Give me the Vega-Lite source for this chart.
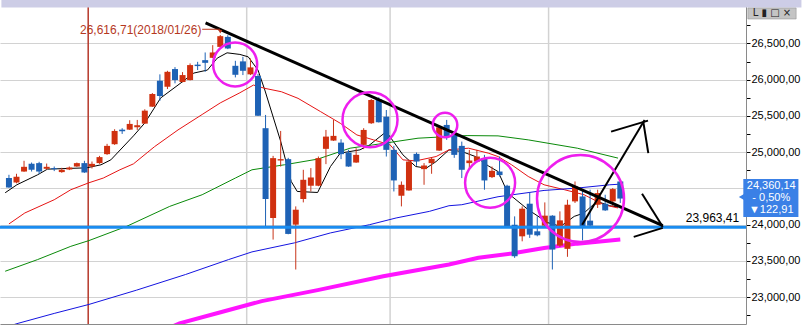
{
  "$schema": "https://vega.github.io/schema/vega-lite/v6.json",
  "autosize": "none",
  "padding": {"top": 0, "left": 0, "right": 58, "bottom": 1},
  "width": 746,
  "height": 324,
  "background": "#ffffff",
  "config": {
    "view": {"stroke": null},
    "font": "Liberation Sans",
    "axis": {"labelFont": "Liberation Sans", "labelFontSize": 11, "labelColor": "#000000", "tickColor": "#000000", "domainColor": "#8a8a8a", "gridColor": "#d2d2d2"}
  },
  "datasets": {
    "candles": [
      {"i":0,"date":"2017-12-14","open":24643,"high":24688,"low":24509,"close":24513},
      {"i":1,"date":"2017-12-15","open":24582,"high":24702,"low":24571,"close":24660},
      {"i":2,"date":"2017-12-18","open":24733,"high":24881,"low":24729,"close":24798},
      {"i":3,"date":"2017-12-19","open":24839,"high":24857,"low":24733,"close":24757},
      {"i":4,"date":"2017-12-20","open":24849,"high":24867,"low":24698,"close":24733},
      {"i":5,"date":"2017-12-21","open":24771,"high":24843,"low":24757,"close":24798},
      {"i":6,"date":"2017-12-22","open":24780,"high":24802,"low":24739,"close":24766},
      {"i":7,"date":"2017-12-26","open":24725,"high":24784,"low":24716,"close":24757},
      {"i":8,"date":"2017-12-27","open":24761,"high":24802,"low":24753,"close":24788},
      {"i":9,"date":"2017-12-28","open":24802,"high":24857,"low":24798,"close":24849},
      {"i":10,"date":"2017-12-29","open":24849,"high":24881,"low":24715,"close":24720},
      {"i":11,"date":"2018-01-02","open":24802,"high":24871,"low":24775,"close":24839},
      {"i":12,"date":"2018-01-03","open":24849,"high":24949,"low":24839,"close":24932},
      {"i":13,"date":"2018-01-04","open":24973,"high":25115,"low":24963,"close":25087},
      {"i":14,"date":"2018-01-05","open":25110,"high":25317,"low":25101,"close":25293},
      {"i":15,"date":"2018-01-08","open":25311,"high":25331,"low":25252,"close":25289},
      {"i":16,"date":"2018-01-09","open":25311,"high":25441,"low":25307,"close":25390},
      {"i":17,"date":"2018-01-10","open":25344,"high":25445,"low":25307,"close":25372},
      {"i":18,"date":"2018-01-11","open":25394,"high":25592,"low":25390,"close":25573},
      {"i":19,"date":"2018-01-12","open":25628,"high":25816,"low":25624,"close":25803},
      {"i":20,"date":"2018-01-16","open":25986,"high":26074,"low":25710,"close":25775},
      {"i":21,"date":"2018-01-17","open":25903,"high":26123,"low":25871,"close":26109},
      {"i":22,"date":"2018-01-18","open":26147,"high":26174,"low":25950,"close":25995},
      {"i":23,"date":"2018-01-19","open":25968,"high":26105,"low":25964,"close":26064},
      {"i":24,"date":"2018-01-22","open":25995,"high":26225,"low":25990,"close":26202},
      {"i":25,"date":"2018-01-23","open":26208,"high":26247,"low":26133,"close":26188},
      {"i":26,"date":"2018-01-24","open":26270,"high":26376,"low":26109,"close":26233},
      {"i":27,"date":"2018-01-25","open":26302,"high":26477,"low":26298,"close":26376},
      {"i":28,"date":"2018-01-26","open":26453,"high":26616.71,"low":26449,"close":26601},
      {"i":29,"date":"2018-01-29","open":26591,"high":26614,"low":26422,"close":26431},
      {"i":30,"date":"2018-01-30","open":26192,"high":26261,"low":26032,"close":26068},
      {"i":31,"date":"2018-01-31","open":26253,"high":26316,"low":26064,"close":26123},
      {"i":32,"date":"2018-02-01","open":26074,"high":26294,"low":26064,"close":26170},
      {"i":33,"date":"2018-02-02","open":26050,"high":26078,"low":25500,"close":25504},
      {"i":34,"date":"2018-02-05","open":25331,"high":25514,"low":23955,"close":24354},
      {"i":35,"date":"2018-02-06","open":24092,"high":24949,"low":23794,"close":24918},
      {"i":36,"date":"2018-02-07","open":24885,"high":25293,"low":24802,"close":24904},
      {"i":37,"date":"2018-02-08","open":24904,"high":24922,"low":23867,"close":23872},
      {"i":38,"date":"2018-02-09","open":24000,"high":24252,"low":23381,"close":24206},
      {"i":39,"date":"2018-02-12","open":24354,"high":24757,"low":24307,"close":24619},
      {"i":40,"date":"2018-02-13","open":24537,"high":24780,"low":24458,"close":24651},
      {"i":41,"date":"2018-02-14","open":24537,"high":24940,"low":24530,"close":24918},
      {"i":42,"date":"2018-02-15","open":25046,"high":25307,"low":24835,"close":25215},
      {"i":43,"date":"2018-02-16","open":25160,"high":25445,"low":25156,"close":25225},
      {"i":44,"date":"2018-02-20","open":25132,"high":25179,"low":24904,"close":24973},
      {"i":45,"date":"2018-02-21","open":24995,"high":25032,"low":24798,"close":24802},
      {"i":46,"date":"2018-02-22","open":24857,"high":25055,"low":24853,"close":24963},
      {"i":47,"date":"2018-02-23","open":25101,"high":25331,"low":25042,"close":25307},
      {"i":48,"date":"2018-02-26","open":25399,"high":25734,"low":25390,"close":25720},
      {"i":49,"date":"2018-02-27","open":25730,"high":25757,"low":25410,"close":25413},
      {"i":50,"date":"2018-02-28","open":25490,"high":25582,"low":24940,"close":25032},
      {"i":51,"date":"2018-03-01","open":25032,"high":25087,"low":24458,"close":24610},
      {"i":52,"date":"2018-03-02","open":24399,"high":24596,"low":24252,"close":24550},
      {"i":53,"date":"2018-03-05","open":24472,"high":24894,"low":24468,"close":24871},
      {"i":54,"date":"2018-03-06","open":24977,"high":24995,"low":24812,"close":24871},
      {"i":55,"date":"2018-03-07","open":24766,"high":24849,"low":24550,"close":24816},
      {"i":56,"date":"2018-03-08","open":24849,"high":24932,"low":24702,"close":24908},
      {"i":57,"date":"2018-03-09","open":25022,"high":25362,"low":25018,"close":25344},
      {"i":58,"date":"2018-03-12","open":25376,"high":25445,"low":25170,"close":25215},
      {"i":59,"date":"2018-03-13","open":25238,"high":25266,"low":24922,"close":24963},
      {"i":60,"date":"2018-03-14","open":25087,"high":25146,"low":24643,"close":24757},
      {"i":61,"date":"2018-03-15","open":24849,"high":25032,"low":24780,"close":24885},
      {"i":62,"date":"2018-03-16","open":24871,"high":25032,"low":24867,"close":24940},
      {"i":63,"date":"2018-03-19","open":24918,"high":24963,"low":24482,"close":24610},
      {"i":64,"date":"2018-03-20","open":24656,"high":24802,"low":24643,"close":24743},
      {"i":65,"date":"2018-03-21","open":24733,"high":24940,"low":24665,"close":24684},
      {"i":66,"date":"2018-03-22","open":24537,"high":24550,"low":23970,"close":23979},
      {"i":67,"date":"2018-03-23","open":24000,"high":24114,"low":23542,"close":23564},
      {"i":68,"date":"2018-03-26","open":23839,"high":24252,"low":23770,"close":24220},
      {"i":69,"date":"2018-03-27","open":24289,"high":24444,"low":23817,"close":23862},
      {"i":70,"date":"2018-03-28","open":23908,"high":24114,"low":23839,"close":23853},
      {"i":71,"date":"2018-03-29","open":23986,"high":24307,"low":23977,"close":24124},
      {"i":72,"date":"2018-04-02","open":24124,"high":24130,"low":23381,"close":23656},
      {"i":73,"date":"2018-04-03","open":23711,"high":24183,"low":23693,"close":24059},
      {"i":74,"date":"2018-04-04","open":23666,"high":24344,"low":23556,"close":24275},
      {"i":75,"date":"2018-04-05","open":24321,"high":24596,"low":24299,"close":24527},
      {"i":76,"date":"2018-04-06","open":24389,"high":24482,"low":23784,"close":23955},
      {"i":77,"date":"2018-04-09","open":24055,"high":24482,"low":23980,"close":23986},
      {"i":78,"date":"2018-04-10","open":24275,"high":24482,"low":24230,"close":24436},
      {"i":79,"date":"2018-04-11","open":24289,"high":24413,"low":24190,"close":24197},
      {"i":80,"date":"2018-04-12","open":24321,"high":24505,"low":24252,"close":24491},
      {"i":81,"date":"2018-04-13","open":24596,"high":24600,"low":24299,"close":24360.14}
    ],
    "ma": [
      {"line":"MA5","i":-0.5,"value":24440},{"line":"MA5","i":1.05,"value":24550},{"line":"MA5","i":3.8,"value":24688},{"line":"MA5","i":5.1,"value":24766},{"line":"MA5","i":10.3,"value":24784},{"line":"MA5","i":12.2,"value":24826},{"line":"MA5","i":13.5,"value":24894},{"line":"MA5","i":16.5,"value":25225},{"line":"MA5","i":18.0,"value":25403},{"line":"MA5","i":20.1,"value":25748},{"line":"MA5","i":22.4,"value":25926},{"line":"MA5","i":24.5,"value":26092},{"line":"MA5","i":26.3,"value":26133},{"line":"MA5","i":27.6,"value":26298},{"line":"MA5","i":28.9,"value":26371},{"line":"MA5","i":30.6,"value":26349},{"line":"MA5","i":31.7,"value":26316},{"line":"MA5","i":33.0,"value":26133},{"line":"MA5","i":33.9,"value":25858},{"line":"MA5","i":36.0,"value":25150},{"line":"MA5","i":37.4,"value":24596},{"line":"MA5","i":38.2,"value":24458},{"line":"MA5","i":40.9,"value":24444},{"line":"MA5","i":42.6,"value":24802},{"line":"MA5","i":43.9,"value":24987},{"line":"MA5","i":46.5,"value":25032},{"line":"MA5","i":47.8,"value":25101},{"line":"MA5","i":50.0,"value":25284},{"line":"MA5","i":52.2,"value":24963},{"line":"MA5","i":53.9,"value":24802},{"line":"MA5","i":55.3,"value":24780},{"line":"MA5","i":56.6,"value":24871},{"line":"MA5","i":58.3,"value":25032},{"line":"MA5","i":60.0,"value":25009},{"line":"MA5","i":61.8,"value":24940},{"line":"MA5","i":63.5,"value":24812},{"line":"MA5","i":64.8,"value":24733},{"line":"MA5","i":66.1,"value":24436},{"line":"MA5","i":68.8,"value":24206},{"line":"MA5","i":71.4,"value":24027},{"line":"MA5","i":73.1,"value":23977},{"line":"MA5","i":74.9,"value":24114},{"line":"MA5","i":76.2,"value":24161},{"line":"MA5","i":77.9,"value":24321},{"line":"MA5","i":79.6,"value":24261},{"line":"MA5","i":80.7,"value":24243},
      {"line":"MA20","i":0,"value":24010},{"line":"MA20","i":2.1,"value":24161},{"line":"MA20","i":6.0,"value":24344},{"line":"MA20","i":8.2,"value":24482},{"line":"MA20","i":10.6,"value":24578},{"line":"MA20","i":12.5,"value":24643},{"line":"MA20","i":14.7,"value":24757},{"line":"MA20","i":16.5,"value":24839},{"line":"MA20","i":19.3,"value":25077},{"line":"MA20","i":22.4,"value":25307},{"line":"MA20","i":25.6,"value":25520},{"line":"MA20","i":28.0,"value":25680},{"line":"MA20","i":30.6,"value":25820},{"line":"MA20","i":32.4,"value":25926},{"line":"MA20","i":33.9,"value":25881},{"line":"MA20","i":36.1,"value":25834},{"line":"MA20","i":38.3,"value":25743},{"line":"MA20","i":41.3,"value":25559},{"line":"MA20","i":43.9,"value":25399},{"line":"MA20","i":46.1,"value":25238},{"line":"MA20","i":48.3,"value":25170},{"line":"MA20","i":50.5,"value":25101},{"line":"MA20","i":52.2,"value":24894},{"line":"MA20","i":53.9,"value":24880},{"line":"MA20","i":56.6,"value":24940},{"line":"MA20","i":58.3,"value":25032},{"line":"MA20","i":60.9,"value":25055},{"line":"MA20","i":63.5,"value":24987},{"line":"MA20","i":64.8,"value":24940},{"line":"MA20","i":66.6,"value":24826},{"line":"MA20","i":68.8,"value":24665},{"line":"MA20","i":70.9,"value":24550},{"line":"MA20","i":73.6,"value":24482},{"line":"MA20","i":76.2,"value":24413},{"line":"MA20","i":78.8,"value":24275},{"line":"MA20","i":80.7,"value":24230},
      {"line":"MA60","i":-0.5,"value":23357},{"line":"MA60","i":3.8,"value":23518},{"line":"MA60","i":8.2,"value":23701},{"line":"MA60","i":10.6,"value":23780},{"line":"MA60","i":15.6,"value":23977},{"line":"MA60","i":21.3,"value":24252},{"line":"MA60","i":25.6,"value":24413},{"line":"MA60","i":30.0,"value":24643},{"line":"MA60","i":32.2,"value":24757},{"line":"MA60","i":36.5,"value":24826},{"line":"MA60","i":40.9,"value":24904},{"line":"MA60","i":45.2,"value":25055},{"line":"MA60","i":49.8,"value":25124},{"line":"MA60","i":54.2,"value":25193},{"line":"MA60","i":60.7,"value":25229},{"line":"MA60","i":64.8,"value":25225},{"line":"MA60","i":68.8,"value":25170},{"line":"MA60","i":75.3,"value":25055},{"line":"MA60","i":80.7,"value":24918},
      {"line":"MA120","i":0,"value":22600},{"line":"MA120","i":1.2,"value":22638},{"line":"MA120","i":6.0,"value":22775},{"line":"MA120","i":10.6,"value":22899},{"line":"MA120","i":16.9,"value":23096},{"line":"MA120","i":23.4,"value":23312},{"line":"MA120","i":29.1,"value":23518},{"line":"MA120","i":32.2,"value":23624},{"line":"MA120","i":37.8,"value":23748},{"line":"MA120","i":42.6,"value":23886},{"line":"MA120","i":47.8,"value":24000},{"line":"MA120","i":51.3,"value":24092},{"line":"MA120","i":55.7,"value":24183},{"line":"MA120","i":58.3,"value":24261},{"line":"MA120","i":60.0,"value":24275},{"line":"MA120","i":64.8,"value":24385},{"line":"MA120","i":70.9,"value":24472},{"line":"MA120","i":75.3,"value":24505},{"line":"MA120","i":79.6,"value":24550},{"line":"MA120","i":80.7,"value":24557},
      {"line":"MA240","i":21.7,"value":22596},{"line":"MA240","i":22.6,"value":22638},{"line":"MA240","i":27.8,"value":22785},{"line":"MA240","i":33.5,"value":22945},{"line":"MA240","i":40.9,"value":23096},{"line":"MA240","i":49.6,"value":23289},{"line":"MA240","i":58.3,"value":23450},{"line":"MA240","i":62.2,"value":23542},{"line":"MA240","i":66.6,"value":23601},{"line":"MA240","i":70.9,"value":23679},{"line":"MA240","i":75.3,"value":23738},{"line":"MA240","i":81.0,"value":23794}
    ],
    "months": [
      {"i":10.5,"boundary":"2018-01","kind":"year"},
      {"i":31.5,"boundary":"2018-02","kind":"month"},
      {"i":50.5,"boundary":"2018-03","kind":"month"},
      {"i":71.5,"boundary":"2018-04","kind":"month"}
    ],
    "levels": [{"label":"23,963,41","value":23963.41}],
    "drawings": [
      {"seg":"trend","i":26.05,"value":26784},{"seg":"trend","i":86.63,"value":23986},
      {"seg":"up","i":75.95,"value":24000},{"seg":"up","i":84.22,"value":25445},
      {"seg":"upbarb1","i":79.78,"value":25284},{"seg":"upbarb1","i":84.67,"value":25435},
      {"seg":"upbarb2","i":84.71,"value":24987},{"seg":"upbarb2","i":84.05,"value":25417},
      {"seg":"wedge1","i":83.88,"value":24427},{"seg":"wedge1","i":86.63,"value":23972},
      {"seg":"wedge2","i":82.78,"value":23831},{"seg":"wedge2","i":86.63,"value":23955}
    ],
    "circles": [
      {"ring":"c1","i":29.97,"value":26211},
      {"ring":"c2","i":47.84,"value":25448},
      {"ring":"c3","i":57.78,"value":25376},
      {"ring":"c4","i":63.75,"value":24578},
      {"ring":"c5","i":75.73,"value":24361}
    ],
    "one": [{"note":"annotation"}]
  },
  "layer": [
    {
      "encoding": {
        "x": {"field": "i", "type": "quantitative", "scale": {"domain": [-0.523, 96.993], "nice": false, "zero": false},
              "axis": {"orient": "bottom", "labels": false, "ticks": false, "grid": false, "title": null}},
        "y": {"field": "value", "type": "quantitative", "scale": {"domain": [22629, 27100], "nice": false, "zero": false},
              "axis": {"orient": "right", "title": null, "values": [22750,23000,23250,23500,23750,24000,24250,24500,24750,25000,25250,25500,25750,26000,26250,26500,26750], "labelExpr": "datum.value % 500 === 0 && datum.value !== 24500 ? replace(format(datum.value, ',.2f'), '.', ',') : ''", "labelPadding": 1, "labelOverlap": false, "labelFlush": false, "tickSize": 4, "grid": true, "gridOpacity": {"condition": {"test": "datum.value % 500 === 0", "value": 1}, "value": 0}}}
      },
      "layer": [
        {
          "data": {"name": "months"},
          "mark": {"type": "rule", "strokeWidth": 1.5},
          "encoding": {
            "y": null,
            "color": {"condition": {"test": "datum.kind === 'year'", "value": "#b5382a"}, "value": "#d2d2d2"}
          }
        },
        {
          "data": {"name": "ma"},
          "transform": [{"filter": "datum.line !== 'MA240'"}],
          "mark": {"type": "line", "strokeWidth": 1, "clip": true},
          "encoding": {
            "detail": {"field": "line"},
            "color": {"field": "line", "type": "nominal", "legend": null,
                      "scale": {"domain": ["MA5","MA20","MA60","MA120"], "range": ["#000000","#e61414","#0a8a0a","#1414e0"]}}
          }
        },
        {
          "data": {"name": "ma"},
          "transform": [{"filter": "datum.line === 'MA240'"}],
          "mark": {"type": "line", "strokeWidth": 4, "color": "#ff14ff", "clip": true},
          "encoding": {}
        },
        {
          "data": {"name": "candles"},
          "mark": {"type": "rule", "strokeWidth": 1},
          "encoding": {
            "y": {"field": "low", "type": "quantitative"},
            "y2": {"field": "high"},
            "color": {"condition": {"test": "datum.open < datum.close", "value": "#c8341a"}, "value": "#1e62b5"}
          }
        },
        {
          "data": {"name": "candles"},
          "mark": {"type": "bar", "width": 6},
          "encoding": {
            "y": {"field": "open", "type": "quantitative"},
            "y2": {"field": "close"},
            "color": {"condition": {"test": "datum.open < datum.close", "value": "#d0300f"}, "value": "#1e62b5"}
          }
        },
        {
          "data": {"name": "levels"},
          "mark": {"type": "rule", "strokeWidth": 3, "color": "#1a8cf0"},
          "encoding": {"x": null}
        },
        {
          "data": {"name": "drawings"},
          "transform": [{"filter": "datum.seg === 'trend'"}],
          "mark": {"type": "line", "strokeWidth": 3, "color": "#000000"},
          "encoding": {"detail": {"field": "seg"}}
        },
        {
          "data": {"name": "drawings"},
          "transform": [{"filter": "datum.seg !== 'trend'"}],
          "mark": {"type": "line", "strokeWidth": 2, "color": "#000000"},
          "encoding": {"detail": {"field": "seg"}}
        },
        {"data": {"name": "circles"}, "transform": [{"filter": "datum.ring === 'c1'"}], "mark": {"type": "point", "shape": "circle", "filled": false, "strokeWidth": 2.5, "color": "#ee1eee", "opacity": 1, "size": 1936}, "encoding": {}},
        {"data": {"name": "circles"}, "transform": [{"filter": "datum.ring === 'c2'"}], "mark": {"type": "point", "shape": "circle", "filled": false, "strokeWidth": 2.5, "color": "#ee1eee", "opacity": 1, "size": 3025}, "encoding": {}},
        {"data": {"name": "circles"}, "transform": [{"filter": "datum.ring === 'c3'"}], "mark": {"type": "point", "shape": "circle", "filled": false, "strokeWidth": 2.5, "color": "#ee1eee", "opacity": 1, "size": 600}, "encoding": {}},
        {"data": {"name": "circles"}, "transform": [{"filter": "datum.ring === 'c4'"}], "mark": {"type": "point", "shape": "circle", "filled": false, "strokeWidth": 2.5, "color": "#ee1eee", "opacity": 1, "size": 2500}, "encoding": {}},
        {"data": {"name": "circles"}, "transform": [{"filter": "datum.ring === 'c5'"}], "mark": {"type": "point", "shape": "circle", "filled": false, "strokeWidth": 2.5, "color": "#ee1eee", "opacity": 1, "size": 7569}, "encoding": {}}
      ]
    },
    {
      "data": {"name": "levels"},
      "mark": {"type": "text", "align": "right", "baseline": "bottom", "dy": -2, "fontSize": 12, "font": "Liberation Sans", "color": "#000000"},
      "encoding": {
        "x": {"datum": 96.75, "type": "quantitative", "scale": {"domain": [-0.523, 96.993], "nice": false, "zero": false},
              "axis": {"orient": "bottom", "labels": false, "ticks": false, "grid": false, "title": null}},
        "y": {"field": "value", "type": "quantitative", "scale": {"domain": [22629, 27100], "nice": false, "zero": false},
              "axis": {"orient": "right", "title": null, "values": [22750,23000,23250,23500,23750,24000,24250,24500,24750,25000,25250,25500,25750,26000,26250,26500,26750], "labelExpr": "datum.value % 500 === 0 && datum.value !== 24500 ? replace(format(datum.value, ',.2f'), '.', ',') : ''", "labelPadding": 1, "labelOverlap": false, "labelFlush": false, "tickSize": 4, "grid": true, "gridOpacity": {"condition": {"test": "datum.value % 500 === 0", "value": 1}, "value": 0}}},
        "text": {"field": "label"}
      }
    },
    {
      "data": {"name": "one"},
      "encoding": {
        "x": {"datum": 0, "type": "quantitative", "scale": {"domain": [-0.523, 96.993], "nice": false, "zero": false},
              "axis": {"orient": "bottom", "labels": false, "ticks": false, "grid": false, "title": null}},
        "y": {"datum": 24000, "type": "quantitative", "scale": {"domain": [22629, 27100], "nice": false, "zero": false},
              "axis": {"orient": "right", "title": null, "values": [22750,23000,23250,23500,23750,24000,24250,24500,24750,25000,25250,25500,25750,26000,26250,26500,26750], "labelExpr": "datum.value % 500 === 0 && datum.value !== 24500 ? replace(format(datum.value, ',.2f'), '.', ',') : ''", "labelPadding": 1, "labelOverlap": false, "labelFlush": false, "tickSize": 4, "grid": true, "gridOpacity": {"condition": {"test": "datum.value % 500 === 0", "value": 1}, "value": 0}}}
      },
      "layer": [
        {
          "mark": {"type": "text", "text": "26,616,71(2018/01/26)", "align": "right", "baseline": "middle", "fontSize": 12, "font": "Liberation Sans", "color": "#b5381e"},
          "encoding": {"x": {"datum": 25.5}, "y": {"datum": 26686}}
        },
        {
          "mark": {"type": "rule", "strokeWidth": 1, "color": "#c0381e"},
          "encoding": {"x": {"datum": 25.6}, "x2": {"datum": 28.0}, "y": {"datum": 26696}}
        },
        {
          "mark": {"type": "point", "shape": "triangle-down", "filled": true, "size": 16, "color": "#c0381e", "opacity": 1},
          "encoding": {"x": {"datum": 28.0}, "y": {"datum": 26662}}
        },
        {
          "mark": {"type": "rect", "color": "#3a80e6", "clip": false},
          "encoding": {"x": {"datum": 97.3}, "x2": {"datum": 104.6}, "y": {"datum": 24629}, "y2": {"datum": 24104}}
        },
        {
          "mark": {"type": "point", "shape": "triangle-left", "filled": true, "size": 90, "color": "#3a80e6", "opacity": 1, "clip": false},
          "encoding": {"x": {"datum": 97.25}, "y": {"datum": 24380}}
        },
        {
          "mark": {"type": "text", "text": ["24,360,14", "- 0,50%", "▼122,91"], "lineHeight": 12, "align": "center", "baseline": "top", "fontSize": 11, "font": "Liberation Sans", "color": "#ffffff", "clip": false},
          "encoding": {"x": {"datum": 101.0}, "y": {"datum": 24615}}
        },
        {
          "mark": {"type": "rect", "color": "#cdcde6", "clip": false},
          "encoding": {"x": {"datum": -1}, "x2": {"datum": 105}, "y": {"datum": 27100}, "y2": {"datum": 26998}}
        },
        {
          "mark": {"type": "rect", "color": "#c4c4c4", "stroke": "#888888", "strokeWidth": 0.5, "clip": false},
          "encoding": {"x": {"datum": 97.9}, "x2": {"datum": 104.3}, "y": {"datum": 26990}, "y2": {"datum": 26838}}
        },
        {
          "mark": {"type": "text", "text": "L ▮ □ ×", "align": "center", "baseline": "middle", "fontSize": 10, "font": "DejaVu Sans", "color": "#222222", "clip": false},
          "encoding": {"x": {"datum": 101.1}, "y": {"datum": 26914}}
        }
      ]
    }
  ]
}
